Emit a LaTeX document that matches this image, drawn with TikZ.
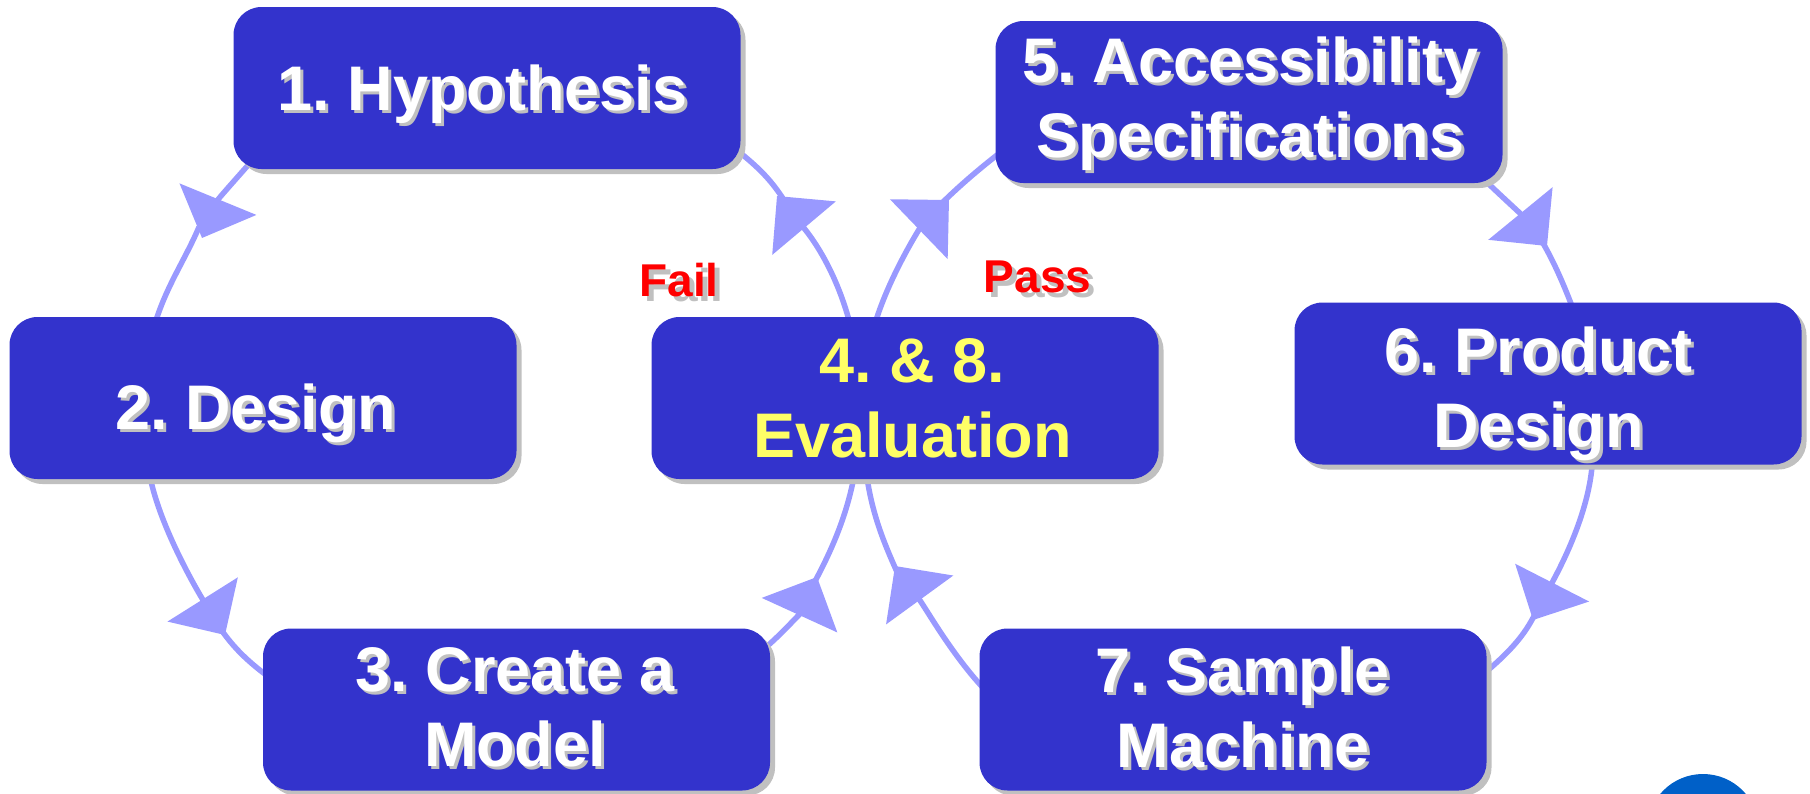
\documentclass[tikz,border=0pt]{standalone}
\usepackage{fontspec}
\setmainfont{Liberation Sans}
\usetikzlibrary{arrows.meta,calc,backgrounds,shadows}
\definecolor{boxblue}{HTML}{3333CC}
\definecolor{linkblue}{HTML}{9999FF}
\definecolor{shgrey}{HTML}{C0C0C0}
\definecolor{evalyellow}{HTML}{FFFF66}
\definecolor{blobblue}{HTML}{0060C8}
\newcommand{\shT}[2][white]{\leavevmode\rlap{\kern3pt\raisebox{-3pt}[0pt][0pt]{\textcolor{shgrey}{#2}}}\textcolor{#1}{#2}}
\newcommand{\shL}[2][red]{\leavevmode\rlap{\kern5pt\raisebox{-5pt}[0pt][0pt]{\textcolor{shgrey}{#2}}}\textcolor{#1}{#2}}
% #1 horizontal offset of the text centre, #2 height of the last baseline over the node centre
\newcommand{\placetxt}[3]{\raisebox{#2pt}[0pt][0pt]{\makebox[0pt][c]{\kern#1pt\kern#1pt\begin{tabular}[b]{@{}c@{}}#3\end{tabular}}}}
\tikzset{
  stepbox/.style={rectangle,rounded corners=28pt,fill=boxblue,minimum width=507pt,minimum height=162pt,
    inner sep=0pt,outer sep=0pt,font=\bfseries\fontsize{63}{75}\selectfont,
    drop shadow={shadow xshift=5pt,shadow yshift=-5pt,fill=shgrey,opacity=1}},
  verdict/.style={inner sep=0pt,font=\bfseries\fontsize{46}{54}\selectfont},
  link/.style={draw=linkblue,line width=5.5pt},
  linkhead/.style={link,-{Triangle[length=42pt,width=82pt,fill=linkblue]}},
}
\begin{document}
\frenchspacing
\begin{tikzpicture}[x=1pt,y=-1pt]
\useasboundingbox (0,0) rectangle (1810,793);
\node[stepbox] (n1) at (487,88) {\placetxt{-4.5}{-22}{\shT{1. Hypothesis}}};
\node[stepbox] (n2) at (263,398) {\placetxt{-7.5}{-31}{\shT{2. Design}}};
\node[stepbox] (n3) at (516.5,709.5) {\placetxt{-1.5}{-56.5}{\shT{3. Create a}\\\shT{Model}}};
\node[stepbox] (n4) at (905,398) {\placetxt{7.5}{-59}{\textcolor{evalyellow}{4. \& 8.}\\\textcolor{evalyellow}{Evaluation}}};
\node[stepbox] (n5) at (1249,102) {\placetxt{1.5}{-55}{\shT{5. Accessibility}\\\shT{Specifications}}};
\node[stepbox] (n6) at (1548,383.5) {\placetxt{-9.5}{-63.5}{\shT{6. Product}\\\shT{Design}}};
\node[stepbox] (n7) at (1233,709.5) {\placetxt{10}{-57.5}{\shT{7. Sample}\\\shT{Machine}}};
\node[verdict] (fail) at (679,296) {\placetxt{0}{0}{\shL{Fail}}};
\node[verdict] (pass) at (1037.5,292) {\placetxt{0}{0}{\shL{Pass}}};
\begin{scope}
  \clip (0,0) rectangle (1810,793);
  \fill[blobblue] (1703,830) circle[radius=56pt];
\end{scope}
\coordinate (t12) at (202,238);
\coordinate (t23) at (225,635);
\coordinate (t34) at (817,577);
\coordinate (t41) at (777,196);
\coordinate (t45) at (949,200);
\coordinate (t56) at (1547,246);
\coordinate (t67) at (1533,620);
\coordinate (t74) at (895,566);
\begin{pgfonlayer}{background}
  % 1 -> 2
  \draw[linkhead] ($(n1.south west)+(20,-10)$) .. controls (235,180) and (218,199) .. (t12);
  \draw[link] (199,227) .. controls (186,258) and (167,285) .. ($(n2.north west)+(146,5)$);
  % 2 -> 3
  \draw[linkhead] ($(n2.south west)+(140,-5)$) .. controls (160,530) and (203,600) .. (t23);
  \draw[link] (220,628) .. controls (233,647) and (248,662) .. ($(n3.north west)+(8,50)$);
  % 3 -> 4
  \draw[linkhead] ($(n3.north east)+(-8,22)$) .. controls (780,636) and (801,612) .. (t34);
  \draw[link] (813,585) .. controls (832,550) and (847,515) .. ($(n4.south west)+(203,-5)$);
  % 4 -> 1 (Fail)
  \draw[linkhead] ($(n4.north west)+(198,5)$) .. controls (836,272) and (814,240) .. (t41);
  \draw[link] (787,205) .. controls (772,180) and (758,167) .. ($(n1.south east)+(-5,-20)$);
  % 4 -> 5 (Pass)
  \draw[linkhead] ($(n4.north west)+(224,5)$) .. controls (890,275) and (920,228) .. (t45);
  \draw[link] (940,205) .. controls (955,190) and (975,172) .. ($(n5.north west)+(8,129)$);
  % 5 -> 6
  \draw[linkhead] ($(n5.south east)+(-20,-5)$) .. controls (1500,195) and (1520,213) .. (t56);
  \draw[link] (1540,238) .. controls (1552,258) and (1562,280) .. ($(n6.north west)+(278,5)$);
  % 6 -> 7
  \draw[linkhead] ($(n6.south west)+(298,-5)$) .. controls (1590,515) and (1556,575) .. (t67);
  \draw[link] (1536,612) .. controls (1525,635) and (1510,652) .. ($(n7.north east)+(-6,48)$);
  % 7 -> 4
  \draw[linkhead] ($(n7.north west)+(10,66)$) .. controls (955,660) and (927,610) .. (t74);
  \draw[link] (897,572) .. controls (885,545) and (872,515) .. ($(n4.south west)+(215,-5)$);
\end{pgfonlayer}
\end{tikzpicture}
\end{document}
